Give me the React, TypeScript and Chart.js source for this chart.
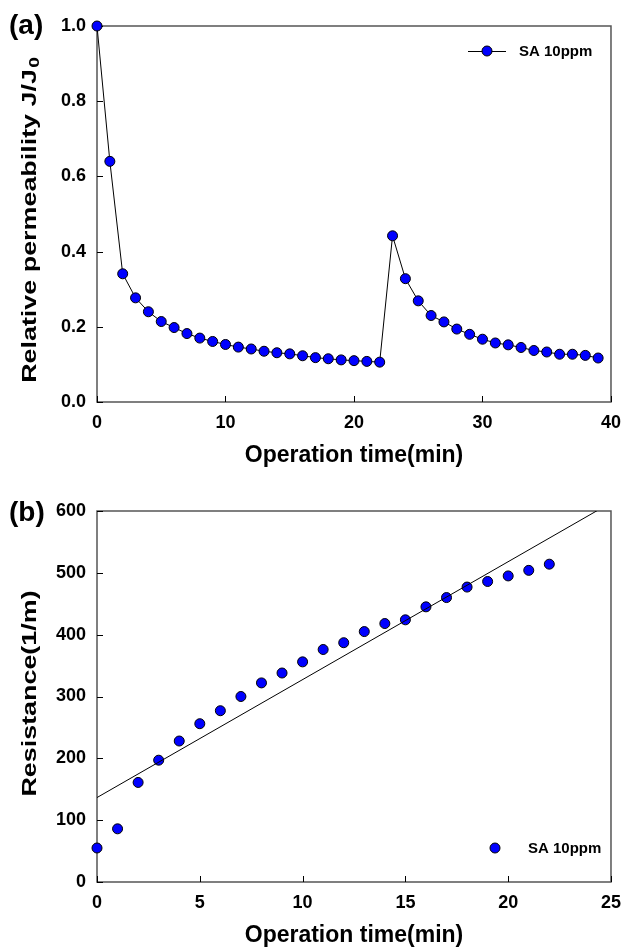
import React, { useEffect, useRef } from "react";
import { Chart, registerables } from "chart.js";

Chart.register(...registerables);

// ---------- data ----------
const timeA = [0, 1, 2, 3, 4, 5, 6, 7, 8, 9, 10, 11, 12, 13, 14, 15, 16, 17, 18, 19, 20, 21, 22, 23, 24, 25, 26, 27, 28, 29, 30, 31, 32, 33, 34, 35, 36, 37, 38, 39];
const permeabilityA = [
  1.0, 0.64, 0.341, 0.277, 0.24, 0.214, 0.198, 0.182, 0.17, 0.161,
  0.153, 0.146, 0.141, 0.135, 0.131, 0.128, 0.123, 0.118, 0.115, 0.112,
  0.11, 0.108, 0.106, 0.442, 0.328, 0.269, 0.23, 0.213, 0.194, 0.18,
  0.167, 0.157, 0.152, 0.145, 0.137, 0.133, 0.127, 0.127, 0.124, 0.117,
];
const xTicksA = [0, 10, 20, 30, 40];
const yTicksA = [0, 0.2, 0.4, 0.6, 0.8, 1.0];

const timeB = [0, 1, 2, 3, 4, 5, 6, 7, 8, 9, 10, 11, 12, 13, 14, 15, 16, 17, 18, 19, 20, 21, 22];
const resistanceB = [
  55, 86, 161, 197, 228, 256, 277, 300, 322, 338, 356, 376,
  387, 405, 418, 424, 445, 460, 477, 486, 495, 504, 514,
];
const xTicksB = [0, 5, 10, 15, 20, 25];
const yTicksB = [0, 100, 200, 300, 400, 500, 600];

const seriesLabel = "SA 10ppm";
const xTitle = "Operation time(min)";
const yTitleA = "Relative permeability J/J";
const yTitleASub = "0";
const yTitleB = "Resistance(1/m)";

// least-squares fit line for panel (b)
function linearFit(xs: number[], ys: number[]) {
  const n = xs.length;
  const mx = xs.reduce((a, b) => a + b, 0) / n;
  const my = ys.reduce((a, b) => a + b, 0) / n;
  let sxy = 0, sxx = 0;
  for (let i = 0; i < n; i++) {
    sxy += (xs[i] - mx) * (ys[i] - my);
    sxx += (xs[i] - mx) * (xs[i] - mx);
  }
  const slope = sxy / sxx;
  return { slope, intercept: my - slope * mx };
}

const FONT = "'Liberation Sans', Arial, Helvetica, sans-serif";
const W = 631;
const BLUE = "#0000ff";
const FRAME = "#555555";

type Deco = {
  panel: string;
  panelY: number;
  xTitleY: number;
  yTitle: string;
  yTitleSub: string;
  yTitleX: number;
  yTitleShift: number;
  legendX: number;
  legendY: number;
  legendLine: boolean;
};

function decoPlugin(d: Deco) {
  return {
    id: "deco",
    beforeDatasetsDraw(chart: any) {
      const { ctx, chartArea: ca, scales } = chart;
      ctx.save();
      ctx.strokeStyle = FRAME;
      ctx.lineWidth = 1.5;
      ctx.strokeRect(ca.left, ca.top, ca.right - ca.left, ca.bottom - ca.top);
      ctx.lineWidth = 1;
      ctx.strokeStyle = "#000";
      ctx.beginPath();
      for (const t of scales.x.ticks) {
        const px = Math.round(scales.x.getPixelForValue(t.value)) + 0.5;
        ctx.moveTo(px, ca.bottom);
        ctx.lineTo(px, ca.bottom - 6);
      }
      for (const t of scales.y.ticks) {
        const py = Math.round(scales.y.getPixelForValue(t.value)) + 0.5;
        ctx.moveTo(ca.left, py);
        ctx.lineTo(ca.left + 6, py);
      }
      ctx.stroke();
      ctx.restore();
    },
    afterDraw(chart: any) {
      const { ctx, chartArea: ca } = chart;
      ctx.save();
      ctx.fillStyle = "#000";
      // panel label
      ctx.font = `bold 28px ${FONT}`;
      ctx.textAlign = "left";
      ctx.textBaseline = "middle";
      ctx.fillText(d.panel, 9, d.panelY);
      // x title
      ctx.font = `bold 23px ${FONT}`;
      ctx.textAlign = "center";
      ctx.fillText(xTitle, (ca.left + ca.right) / 2, d.xTitleY);
      // y title (rotated, elongated), optional subscript
      ctx.save();
      ctx.translate(d.yTitleX, (ca.top + ca.bottom) / 2 + d.yTitleShift);
      ctx.rotate(-Math.PI / 2);
      ctx.scale(1.28, 1);
      ctx.textBaseline = "middle";
      ctx.font = `bold 21px ${FONT}`;
      const mainW = ctx.measureText(d.yTitle).width;
      ctx.font = `bold 15px ${FONT}`;
      const subW = d.yTitleSub ? ctx.measureText(d.yTitleSub).width + 1 : 0;
      const startX = -(mainW + subW) / 2;
      ctx.textAlign = "left";
      ctx.font = `bold 21px ${FONT}`;
      ctx.fillText(d.yTitle, startX, 0);
      if (d.yTitleSub) {
        ctx.font = `bold 15px ${FONT}`;
        ctx.fillText(d.yTitleSub, startX + mainW + 1, 5);
      }
      ctx.restore();
      // legend
      if (d.legendLine) {
        ctx.strokeStyle = "#000";
        ctx.lineWidth = 1;
        ctx.beginPath();
        ctx.moveTo(d.legendX - 19, d.legendY + 0.5);
        ctx.lineTo(d.legendX + 19, d.legendY + 0.5);
        ctx.stroke();
      }
      ctx.beginPath();
      ctx.arc(d.legendX, d.legendY, 5, 0, Math.PI * 2);
      ctx.fillStyle = BLUE;
      ctx.fill();
      ctx.strokeStyle = "#000";
      ctx.lineWidth = 1;
      ctx.stroke();
      ctx.fillStyle = "#000";
      ctx.font = `bold 15px ${FONT}`;
      ctx.textAlign = "left";
      ctx.textBaseline = "middle";
      ctx.fillText(seriesLabel, d.legendX + (d.legendLine ? 32 : 33), d.legendY + 1);
      ctx.restore();
    },
  };
}

function scaleCfg(ticksArr: number[], min: number, max: number, fmt: (v: number) => string, axis: "x" | "y", fit: number) {
  return {
    type: "linear" as const,
    min,
    max,
    grid: { display: false, drawTicks: false },
    border: { display: false },
    afterBuildTicks: (s: any) => {
      s.ticks = ticksArr.map((v) => ({ value: v }));
    },
    afterFit: (s: any) => {
      if (axis === "x") s.height = fit;
      else s.width = fit;
    },
    ticks: {
      color: "#000",
      font: { family: FONT, size: 18, weight: "bold" as const },
      padding: axis === "x" ? 10 : 11,
      maxRotation: 0,
      autoSkip: false,
      callback: (v: any) => fmt(Number(v)),
    },
  };
}

function buildA() {
  const H = 470;
  return {
    type: "line" as const,
    data: {
      datasets: [
        {
          label: seriesLabel,
          data: timeA.map((t, i) => ({ x: t, y: permeabilityA[i] })),
          borderColor: "#000",
          borderWidth: 1,
          pointRadius: 5,
          pointBackgroundColor: BLUE,
          pointBorderColor: "#000",
          pointBorderWidth: 1,
          tension: 0,
          clip: false as any,
        },
      ],
    },
    options: {
      responsive: false,
      animation: false as const,
      layout: { padding: { top: 26, right: 13, left: 0, bottom: 0 } },
      plugins: { legend: { display: false }, tooltip: { enabled: false } },
      scales: {
        x: scaleCfg(xTicksA, 0, 40, (v) => String(v), "x", H - 402),
        y: scaleCfg(yTicksA, 0, 1, (v) => v.toFixed(1), "y", 97),
      },
    },
    plugins: [
      decoPlugin({
        panel: "(a)",
        panelY: 26,
        xTitleY: 456,
        yTitle: yTitleA,
        yTitleSub: yTitleASub,
        yTitleX: 30,
        yTitleShift: 6,
        legendX: 487,
        legendY: 51,
        legendLine: true,
      }),
    ],
  };
}

function buildB() {
  const H = 479;
  const fit = linearFit(timeB, resistanceB);
  const fitX = [xTicksB[0], xTicksB[xTicksB.length - 1]];
  return {
    type: "scatter" as const,
    data: {
      datasets: [
        {
          type: "line" as const,
          label: "fit",
          data: fitX.map((x) => ({ x, y: fit.intercept + fit.slope * x })),
          borderColor: "#000",
          borderWidth: 1,
          pointRadius: 0,
          tension: 0,
        },
        {
          type: "scatter" as const,
          label: seriesLabel,
          data: timeB.map((t, i) => ({ x: t, y: resistanceB[i] })),
          pointRadius: 5,
          pointBackgroundColor: BLUE,
          pointBorderColor: "#000",
          pointBorderWidth: 1,
          clip: false as any,
        },
      ],
    },
    options: {
      responsive: false,
      animation: false as const,
      layout: { padding: { top: 41, right: 13, left: 0, bottom: 0 } },
      plugins: { legend: { display: false }, tooltip: { enabled: false } },
      scales: {
        x: scaleCfg(xTicksB, 0, 25, (v) => String(v), "x", H - 412),
        y: scaleCfg(yTicksB, 0, 600, (v) => String(v), "y", 97),
      },
    },
    plugins: [
      decoPlugin({
        panel: "(b)",
        panelY: 43,
        xTitleY: 466,
        yTitle: yTitleB,
        yTitleSub: "",
        yTitleX: 30,
        yTitleShift: -3,
        legendX: 495,
        legendY: 378,
        legendLine: false,
      }),
    ],
  };
}

function ChartPanel({ top, height, build }: { top: number; height: number; build: () => any }) {
  const ref = useRef<HTMLCanvasElement>(null);
  useEffect(() => {
    const chart = new Chart(ref.current as HTMLCanvasElement, build());
    return () => chart.destroy();
  }, [build]);
  return (
    <div style={{ position: "absolute", left: 0, top, width: W, height }}>
      <canvas ref={ref} width={W} height={height} style={{ width: W, height, display: "block" }} />
    </div>
  );
}

export default function App() {
  return (
    <div style={{ position: "absolute", left: 0, top: 0, width: W, height: 949, background: "#fff" }}>
      <ChartPanel top={0} height={470} build={buildA} />
      <ChartPanel top={470} height={479} build={buildB} />
    </div>
  );
}
